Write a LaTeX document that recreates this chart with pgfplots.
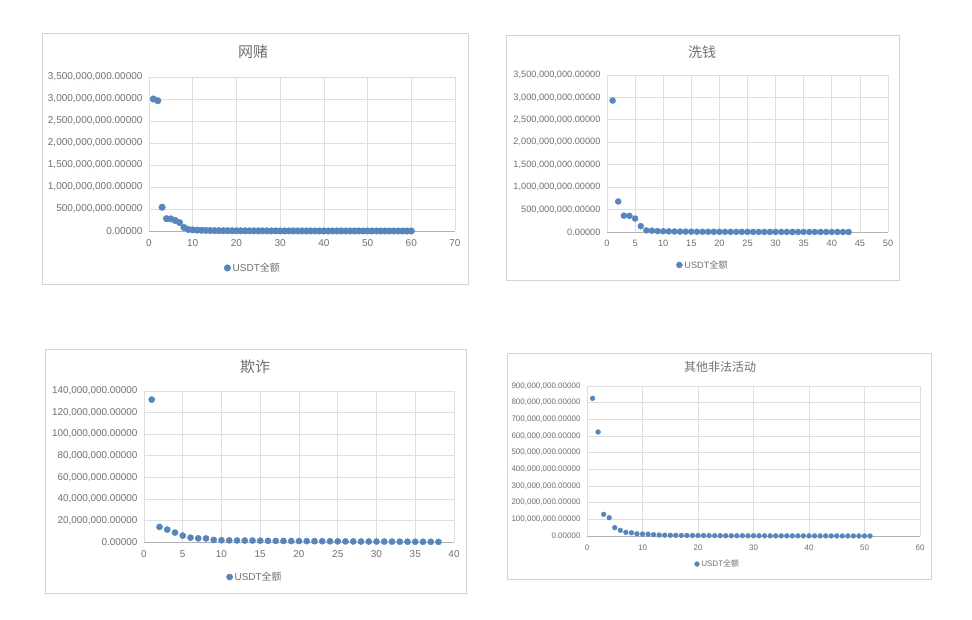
\documentclass[border=0pt]{standalone}
\usepackage{pgfplots}
\pgfplotsset{compat=1.18}
\usepackage{fontspec}
\setmainfont{Liberation Sans}
\newfontfamily\cjk{Noto Sans CJK SC}
\definecolor{dot}{RGB}{86,134,188}
\definecolor{gridc}{RGB}{222,222,222}
\definecolor{txt}{RGB}{112,112,112}
\definecolor{framec}{RGB}{212,212,212}

\pgfplotsset{
  panel/.style={
    scale only axis, anchor=south west,
    axis x line*=bottom, axis y line*=left,
    x axis line style={draw=gray!60, line width=0.7pt},
    y axis line style={draw=none},
    grid=major, major grid style={draw=gridc, line width=0.7pt},
    tick style={draw=none},
    xmin=0, ymin=0,
    ticklabel style={text=txt},
    xticklabel style={yshift=-5pt},
    yticklabel style={xshift=-3pt},
    /pgf/number format/assume math mode=true,
    scaled y ticks=false,
    clip=false,
    legend style={draw=none, fill=none, anchor=center, text=txt, inner sep=1pt},
    legend cell align=left,
  },
  dots/.style={only marks, mark=*, mark size=#1, mark options={fill=dot, draw=dot}},
}

\begin{document}
\begin{tikzpicture}[x=1pt,y=1pt]
\fill[white] (0,0) rectangle (972,620);
\useasboundingbox (0,0) rectangle (972,620);

% frames
\draw[framec, line width=0.8pt] (42,336) rectangle (468,587);
\draw[framec, line width=0.8pt] (506,340) rectangle (899,585);
\draw[framec, line width=0.8pt] (45,27) rectangle (466,271);
\draw[framec, line width=0.8pt] (507,41) rectangle (931,267);

% titles
\node[font=\cjk\fontsize{15}{18}\selectfont, text=txt] at (253,568) {网赌};
\node[font=\cjk\fontsize{14}{17}\selectfont, text=txt] at (702,568) {洗钱};
\node[font=\cjk\fontsize{15}{18}\selectfont, text=txt] at (255,253) {欺诈};
\node[font=\cjk\fontsize{12}{14}\selectfont, text=txt] at (720,253) {其他非法活动};

% Panel 1: 网赌
\begin{axis}[panel, at={(149pt,389pt)}, width=306pt, height=154pt,
  xmax=70, ymax=3500000000,
  xtick={0,10,20,30,40,50,60,70},
  ytick={0,500000000,1000000000,1500000000,2000000000,2500000000,3000000000,3500000000},
  yticklabels={{0.00000},{500,000,000.00000},{1,000,000,000.00000},{1,500,000,000.00000},{2,000,000,000.00000},{2,500,000,000.00000},{3,000,000,000.00000},{3,500,000,000.00000}},
  ticklabel style={font=\fontsize{10}{12}\selectfont},
  legend style={at={(0.34,-0.24)}, font=\fontsize{10}{12}\selectfont},
]
\addplot[dots=3.3pt] coordinates {
(1,3000000000)(2,2960000000)(3,540000000)(4,280000000)(5,275000000)
(6,240000000)(7,190000000)(8,80000000)(9,35000000)(10,25000000)
(11,20000000)(12,16000000)(13,13000000)(14,11000000)(15,9000000)
(16,8000000)(17,7000000)(18,6000000)(19,5500000)(20,5000000)
(21,4500000)(22,4000000)(23,3600000)(24,3200000)(25,2900000)
(26,2600000)(27,2300000)(28,2100000)(29,1900000)(30,1700000)
(31,1500000)(32,1400000)(33,1300000)(34,1200000)(35,1100000)
(36,1000000)(37,900000)(38,800000)(39,750000)(40,700000)
(41,650000)(42,600000)(43,550000)(44,500000)(45,450000)
(46,400000)(47,360000)(48,320000)(49,290000)(50,260000)
(51,230000)(52,200000)(53,180000)(54,150000)(55,120000)
(56,100000)(57,80000)(58,60000)(59,40000)(60,20000)
};
\addlegendentry{USDT{\cjk 全额}}
\end{axis}

% Panel 2: 洗钱
\begin{axis}[panel, at={(607pt,388pt)}, width=281pt, height=157pt,
  xmax=50, ymax=3500000000,
  xtick={0,5,10,15,20,25,30,35,40,45,50},
  ytick={0,500000000,1000000000,1500000000,2000000000,2500000000,3000000000,3500000000},
  yticklabels={{0.00000},{500,000,000.00000},{1,000,000,000.00000},{1,500,000,000.00000},{2,000,000,000.00000},{2,500,000,000.00000},{3,000,000,000.00000},{3,500,000,000.00000}},
  ticklabel style={font=\fontsize{9.2}{11}\selectfont},
  legend style={at={(0.342,-0.21)}, font=\fontsize{9.2}{11}\selectfont},
]
\addplot[dots=3pt] coordinates {
(1,2930000000)(2,680000000)(3,365000000)(4,360000000)(5,300000000)
(6,130000000)(7,35000000)(8,30000000)(9,20000000)(10,16000000)
(11,13000000)(12,11000000)(13,9000000)(14,8000000)(15,7000000)
(16,6200000)(17,5500000)(18,5000000)(19,4500000)(20,4000000)
(21,3600000)(22,3200000)(23,2900000)(24,2600000)(25,2300000)
(26,2100000)(27,1900000)(28,1700000)(29,1500000)(30,1300000)
(31,1200000)(32,1050000)(33,950000)(34,850000)(35,750000)
(36,650000)(37,560000)(38,480000)(39,400000)(40,320000)
(41,250000)(42,180000)(43,100000)
};
\addlegendentry{USDT{\cjk 全额}}
\end{axis}

% Panel 3: 欺诈
\begin{axis}[panel, at={(144pt,78pt)}, width=310pt, height=151pt,
  xmax=40, ymax=140000000,
  xtick={0,5,10,15,20,25,30,35,40},
  ytick={0,20000000,40000000,60000000,80000000,100000000,120000000,140000000},
  yticklabels={{0.00000},{20,000,000.00000},{40,000,000.00000},{60,000,000.00000},{80,000,000.00000},{100,000,000.00000},{120,000,000.00000},{140,000,000.00000}},
  ticklabel style={font=\fontsize{9.9}{12}\selectfont},
  legend style={at={(0.358,-0.232)}, font=\fontsize{9.9}{12}\selectfont},
]
\addplot[dots=3.1pt] coordinates {
(1,132000000)(2,14000000)(3,11500000)(4,8700000)(5,5900000)
(6,4000000)(7,3400000)(8,3300000)(9,1900000)(10,1600000)
(11,1500000)(12,1400000)(13,1350000)(14,1300000)(15,1250000)
(16,1100000)(17,1000000)(18,950000)(19,900000)(20,850000)
(21,800000)(22,750000)(23,700000)(24,650000)(25,600000)
(26,550000)(27,500000)(28,450000)(29,420000)(30,400000)
(31,370000)(32,340000)(33,300000)(34,270000)(35,240000)
(36,200000)(37,150000)(38,100000)
};
\addlegendentry{USDT{\cjk 全额}}
\end{axis}

% Panel 4: 其他非法活动
\begin{axis}[panel, at={(587pt,84pt)}, width=333pt, height=150pt,
  xmax=60, ymax=900000000,
  xtick={0,10,20,30,40,50,60},
  ytick={0,100000000,200000000,300000000,400000000,500000000,600000000,700000000,800000000,900000000},
  yticklabels={{0.00000},{100,000,000.00000},{200,000,000.00000},{300,000,000.00000},{400,000,000.00000},{500,000,000.00000},{600,000,000.00000},{700,000,000.00000},{800,000,000.00000},{900,000,000.00000}},
  ticklabel style={font=\fontsize{8}{10}\selectfont},
  legend style={at={(0.393,-0.187)}, font=\fontsize{8}{10}\selectfont},
]
\addplot[dots=2.4pt] coordinates {
(1,826000000)(2,624000000)(3,130000000)(4,110000000)(5,50000000)
(6,34000000)(7,22000000)(8,19000000)(9,13000000)(10,12000000)
(11,11000000)(12,8000000)(13,6000000)(14,5000000)(15,4500000)
(16,4000000)(17,3600000)(18,3300000)(19,3000000)(20,2800000)
(21,2600000)(22,2400000)(23,2200000)(24,2000000)(25,1900000)
(26,1800000)(27,1700000)(28,1600000)(29,1500000)(30,1400000)
(31,1300000)(32,1200000)(33,1100000)(34,1000000)(35,950000)
(36,900000)(37,850000)(38,800000)(39,750000)(40,700000)
(41,650000)(42,600000)(43,550000)(44,500000)(45,450000)
(46,400000)(47,350000)(48,300000)(49,250000)(50,200000)
(51,150000)
};
\addlegendentry{USDT{\cjk 全额}}
\end{axis}
\end{tikzpicture}
\end{document}
